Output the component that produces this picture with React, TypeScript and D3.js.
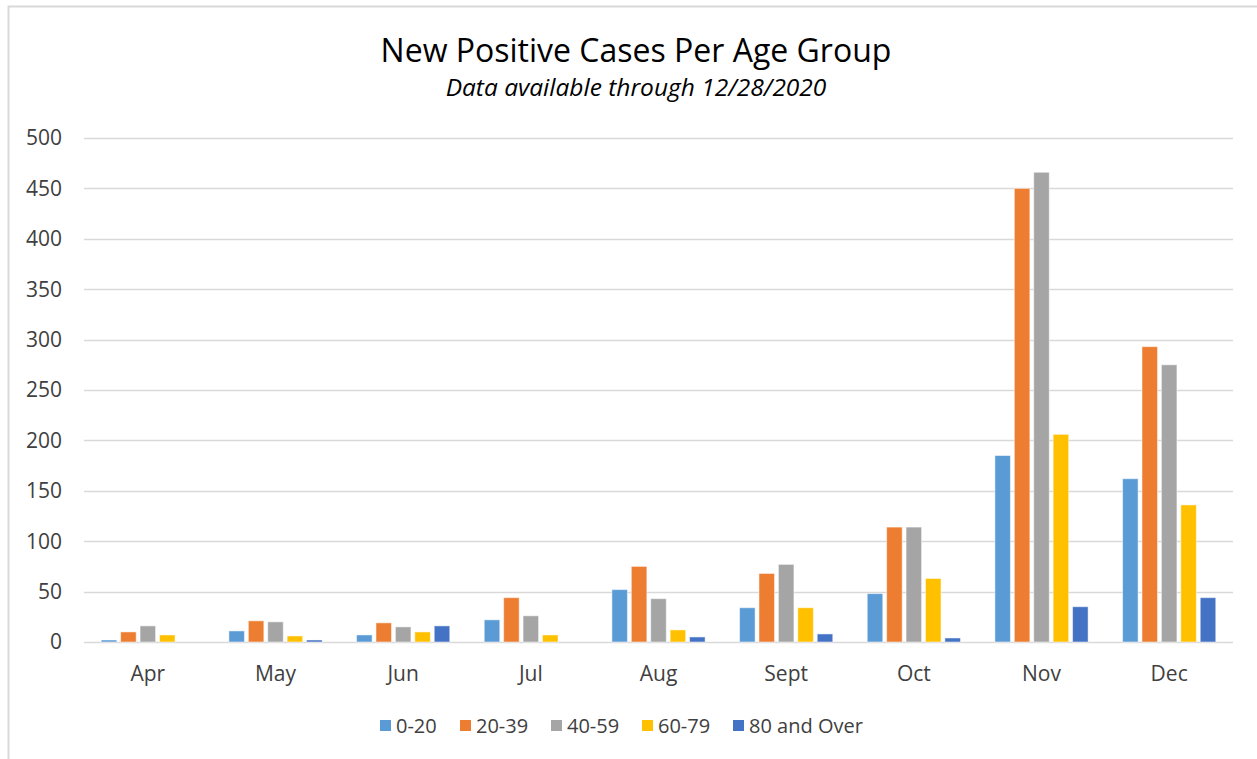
import React, { useRef, useEffect } from 'react';
import * as d3 from 'd3';

const months = ['Apr', 'May', 'Jun', 'Jul', 'Aug', 'Sept', 'Oct', 'Nov', 'Dec'];
const groups = ['0-20', '20-39', '40-59', '60-79', '80 and Over'];
const colors = ['#5B9BD5', '#ED7D31', '#A5A5A5', '#FFC000', '#4472C4'];

const age0to20 = [2, 11, 7, 22, 52, 34, 48, 185, 162];
const age20to39 = [10, 21, 19, 44, 75, 68, 114, 450, 293];
const age40to59 = [16, 20, 15, 26, 43, 77, 114, 466, 275];
const age60to79 = [7, 6, 10, 7, 12, 34, 63, 206, 136];
const age80plus = [0, 2, 16, 0, 5, 8, 4, 35, 44];
const yTicks = [0, 50, 100, 150, 200, 250, 300, 350, 400, 450, 500];

const series = [age0to20, age20to39, age40to59, age60to79, age80plus];

const Chart = () => {
  const svgRef = useRef<SVGSVGElement>(null);

  useEffect(() => {
    const svg = d3.select(svgRef.current);
    svg.selectAll('*').remove();

    const width = 1257;
    const height = 759;
    const margin = { top: 138, right: 24, bottom: 117, left: 84 };
    const font = '"Open Sans", "Noto Sans", sans-serif';

    svg.attr('width', width).attr('height', height);

    // chart frame
    svg.append('rect')
       .attr('x', 8.5)
       .attr('y', 6.5)
       .attr('width', 1400)
       .attr('height', 900)
       .attr('fill', '#fff')
       .attr('stroke', '#d9d9d9')
       .attr('stroke-width', 2);

    const x = d3.scaleBand()
                .domain(months)
                .range([margin.left, width - margin.right])
                .paddingInner(0.27)
                .paddingOuter(0.135);

    const xInner = d3.scaleBand()
                     .domain(groups)
                     .range([0, x.bandwidth()])
                     .paddingInner(0.2);

    const y = d3.scaleLinear()
                .domain([0, 500])
                .range([height - margin.bottom, margin.top]);

    // gridlines
    svg.append('g')
       .selectAll('line')
       .data(yTicks)
       .join('line')
       .attr('x1', margin.left)
       .attr('x2', width - margin.right)
       .attr('y1', d => Math.round(y(d)) + 0.5)
       .attr('y2', d => Math.round(y(d)) + 0.5)
       .attr('stroke', '#d9d9d9')
       .attr('stroke-width', 1.3);

    // y labels
    svg.append('g')
       .selectAll('text')
       .data(yTicks)
       .join('text')
       .attr('x', 62)
       .attr('y', d => y(d))
       .attr('dy', '0.35em')
       .attr('text-anchor', 'end')
       .attr('font-family', font)
       .attr('font-size', 21)
       .attr('fill', '#404040')
       .text(d => d);

    // bars
    series.forEach((vals, si) => {
      svg.append('g')
         .selectAll('rect')
         .data(vals)
         .join('rect')
         .attr('x', (d, i) => x(months[i]) + xInner(groups[si]))
         .attr('y', d => y(d))
         .attr('width', xInner.bandwidth())
         .attr('height', d => y(0) - y(d))
         .attr('fill', colors[si])
         .attr('stroke', '#fff')
         .attr('stroke-opacity', 0.5)
         .attr('stroke-width', 1);
    });

    // x labels
    svg.append('g')
       .selectAll('text')
       .data(months)
       .join('text')
       .attr('x', d => x(d) + x.bandwidth() / 2)
       .attr('y', 681)
       .attr('text-anchor', 'middle')
       .attr('font-family', font)
       .attr('font-size', 21)
       .attr('fill', '#404040')
       .text(d => d);

    // Title
    svg.append('text')
       .attr('x', 636)
       .attr('y', 62)
       .attr('text-anchor', 'middle')
       .attr('font-family', font)
       .attr('font-size', 32)
       .attr('fill', '#000')
       .text('New Positive Cases Per Age Group');

    svg.append('text')
       .attr('x', 636)
       .attr('y', 96)
       .attr('text-anchor', 'middle')
       .attr('font-family', font)
       .attr('font-style', 'italic')
       .attr('font-size', 24.5)
       .attr('fill', '#000')
       .text('Data available through 12/28/2020');

    // legend
    const legendX = [380, 460, 551, 642, 733];
    const legend = svg.append('g')
                      .selectAll('g')
                      .data(groups)
                      .join('g')
                      .attr('transform', (d, i) => `translate(${legendX[i]}, 726)`);
    legend.append('rect')
          .attr('x', 0)
          .attr('y', -6)
          .attr('width', 11)
          .attr('height', 11)
          .attr('fill', (d, i) => colors[i]);
    legend.append('text')
          .attr('x', 16)
          .attr('y', 0)
          .attr('dy', '0.35em')
          .attr('font-family', font)
          .attr('font-size', 20)
          .attr('fill', '#404040')
          .text(d => d);
  }, []);

  return <svg ref={svgRef} style={{ position: 'absolute', left: 0, top: 0 }}></svg>;
};

export default function App() {
  return <Chart />;
}
